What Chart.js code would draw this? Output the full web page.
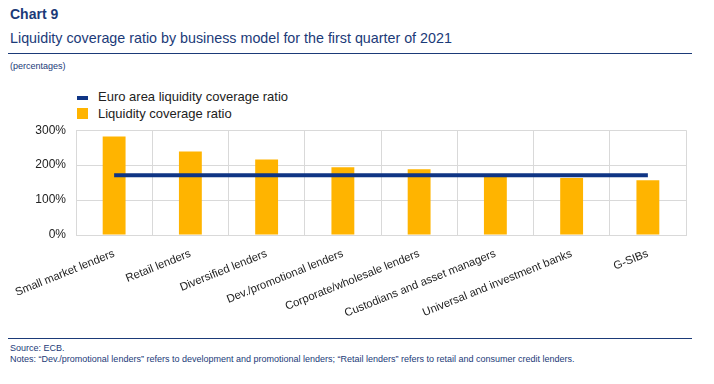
<!DOCTYPE html>
<html>
<head>
<meta charset="utf-8">
<script src="https://cdn.jsdelivr.net/npm/chart.js@4/dist/chart.umd.min.js"></script>
<style>
    body { margin: 0; width: 714px; height: 384px; background: #fff; font-family: Arial, "Liberation Sans", sans-serif; position: relative; overflow: hidden; }
    .t1 { position: absolute; left: 10px; top: 6px; font-size: 14px; font-weight: bold; color: #1b3a78; }
    .t2 { position: absolute; left: 10px; top: 30px; font-size: 14.3px; color: #1b3a78; }
    .rule { position: absolute; left: 8px; width: 684px; height: 1px; background: #1b3a78; }
    .unit { position: absolute; left: 10px; top: 61px; font-size: 9px; color: #1b3a78; }
    .legend { position: absolute; left: 77px; font-size: 13px; color: #222; }
    .foot { position: absolute; left: 10px; font-size: 9px; color: #1b3a78; }
    #wrap { position: absolute; left: 0; top: 113px; width: 714px; height: 215px; }
</style>
</head>
<body>

<div class="t1">Chart 9</div>
<div class="t2">Liquidity coverage ratio by business model for the first quarter of 2021</div>
<div class="rule" style="top:53px"></div>
<div class="unit">(percentages)</div>

<div class="legend" style="top:89px"><span style="display:inline-block;width:11px;height:4px;background:#0f3585;vertical-align:middle;margin-right:10px"></span>Euro area liquidity coverage ratio</div>
<div class="legend" style="top:106px"><span style="display:inline-block;width:11px;height:11px;background:#ffb400;vertical-align:-1px;margin-right:10px"></span>Liquidity coverage ratio</div>

<div id="wrap"><canvas id="chart"></canvas></div>

<div class="rule" style="top:338px"></div>
<div class="foot" style="top:343px">Source: ECB.</div>
<div class="foot" style="top:354px">Notes: “Dev./promotional lenders” refers to development and promotional lenders; “Retail lenders” refers to retail and consumer credit lenders.</div>

<script>
// ---- data ----
const categories = [
    "Small market lenders",
    "Retail lenders",
    "Diversified lenders",
    "Dev./promotional lenders",
    "Corporate/wholesale lenders",
    "Custodians and asset managers",
    "Universal and investment banks",
    "G-SIBs"
];
const lcrValues = [282, 239, 216, 194, 188, 170, 163, 157];
const euroAreaLcr = [171, 171, 171, 171, 171, 171, 171, 171];
const yTicks = [0, 100, 200, 300];

const navy = "#0f3585";
const yellow = "#ffb400";
const gridColor = "#d9d9d9";

let ctx = document.getElementById("chart").getContext("2d");
new Chart(ctx, {
    type: "bar",
    data: {
        labels: categories,
        datasets: [
            {
                type: "line",
                label: "Euro area liquidity coverage ratio",
                data: euroAreaLcr,
                borderColor: navy,
                backgroundColor: navy,
                borderWidth: 4,
                pointRadius: 0,
                order: 0
            },
            {
                label: "Liquidity coverage ratio",
                data: lcrValues,
                backgroundColor: yellow,
                barPercentage: 0.3,
                categoryPercentage: 1,
                order: 1
            }
        ]
    },
    options: {
        responsive: true,
        maintainAspectRatio: false,
        animation: false,
        layout: { padding: { top: 7, right: 28, left: 0, bottom: 0 } },
        plugins: {
            legend: { display: false },
            tooltip: { enabled: false }
        },
        scales: {
            x: {
                grid: { color: gridColor, offset: true, drawTicks: false },
                border: { color: gridColor },
                ticks: {
                    color: "#222",
                    font: { family: "Arial, 'Liberation Sans'", size: 11.3 },
                    minRotation: 22,
                    maxRotation: 22,
                    autoSkip: false,
                    padding: 12
                },
                afterFit: function (scale) {
                    scale.height = 93;
                    scale.paddingLeft = 0;
                    scale.paddingRight = 0;
                }
            },
            y: {
                min: 0,
                max: 300,
                afterBuildTicks: function (scale) {
                    scale.ticks = yTicks.map(function (v) { return { value: v }; });
                },
                grid: { color: gridColor, drawTicks: false },
                border: { color: gridColor },
                ticks: {
                    color: "#222",
                    font: { family: "Arial, 'Liberation Sans'", size: 12 },
                    padding: 10,
                    callback: function (v) { return v + "%"; }
                },
                afterFit: function (scale) { scale.width = 76; }
            }
        }
    }
});
</script>
</body>
</html>
